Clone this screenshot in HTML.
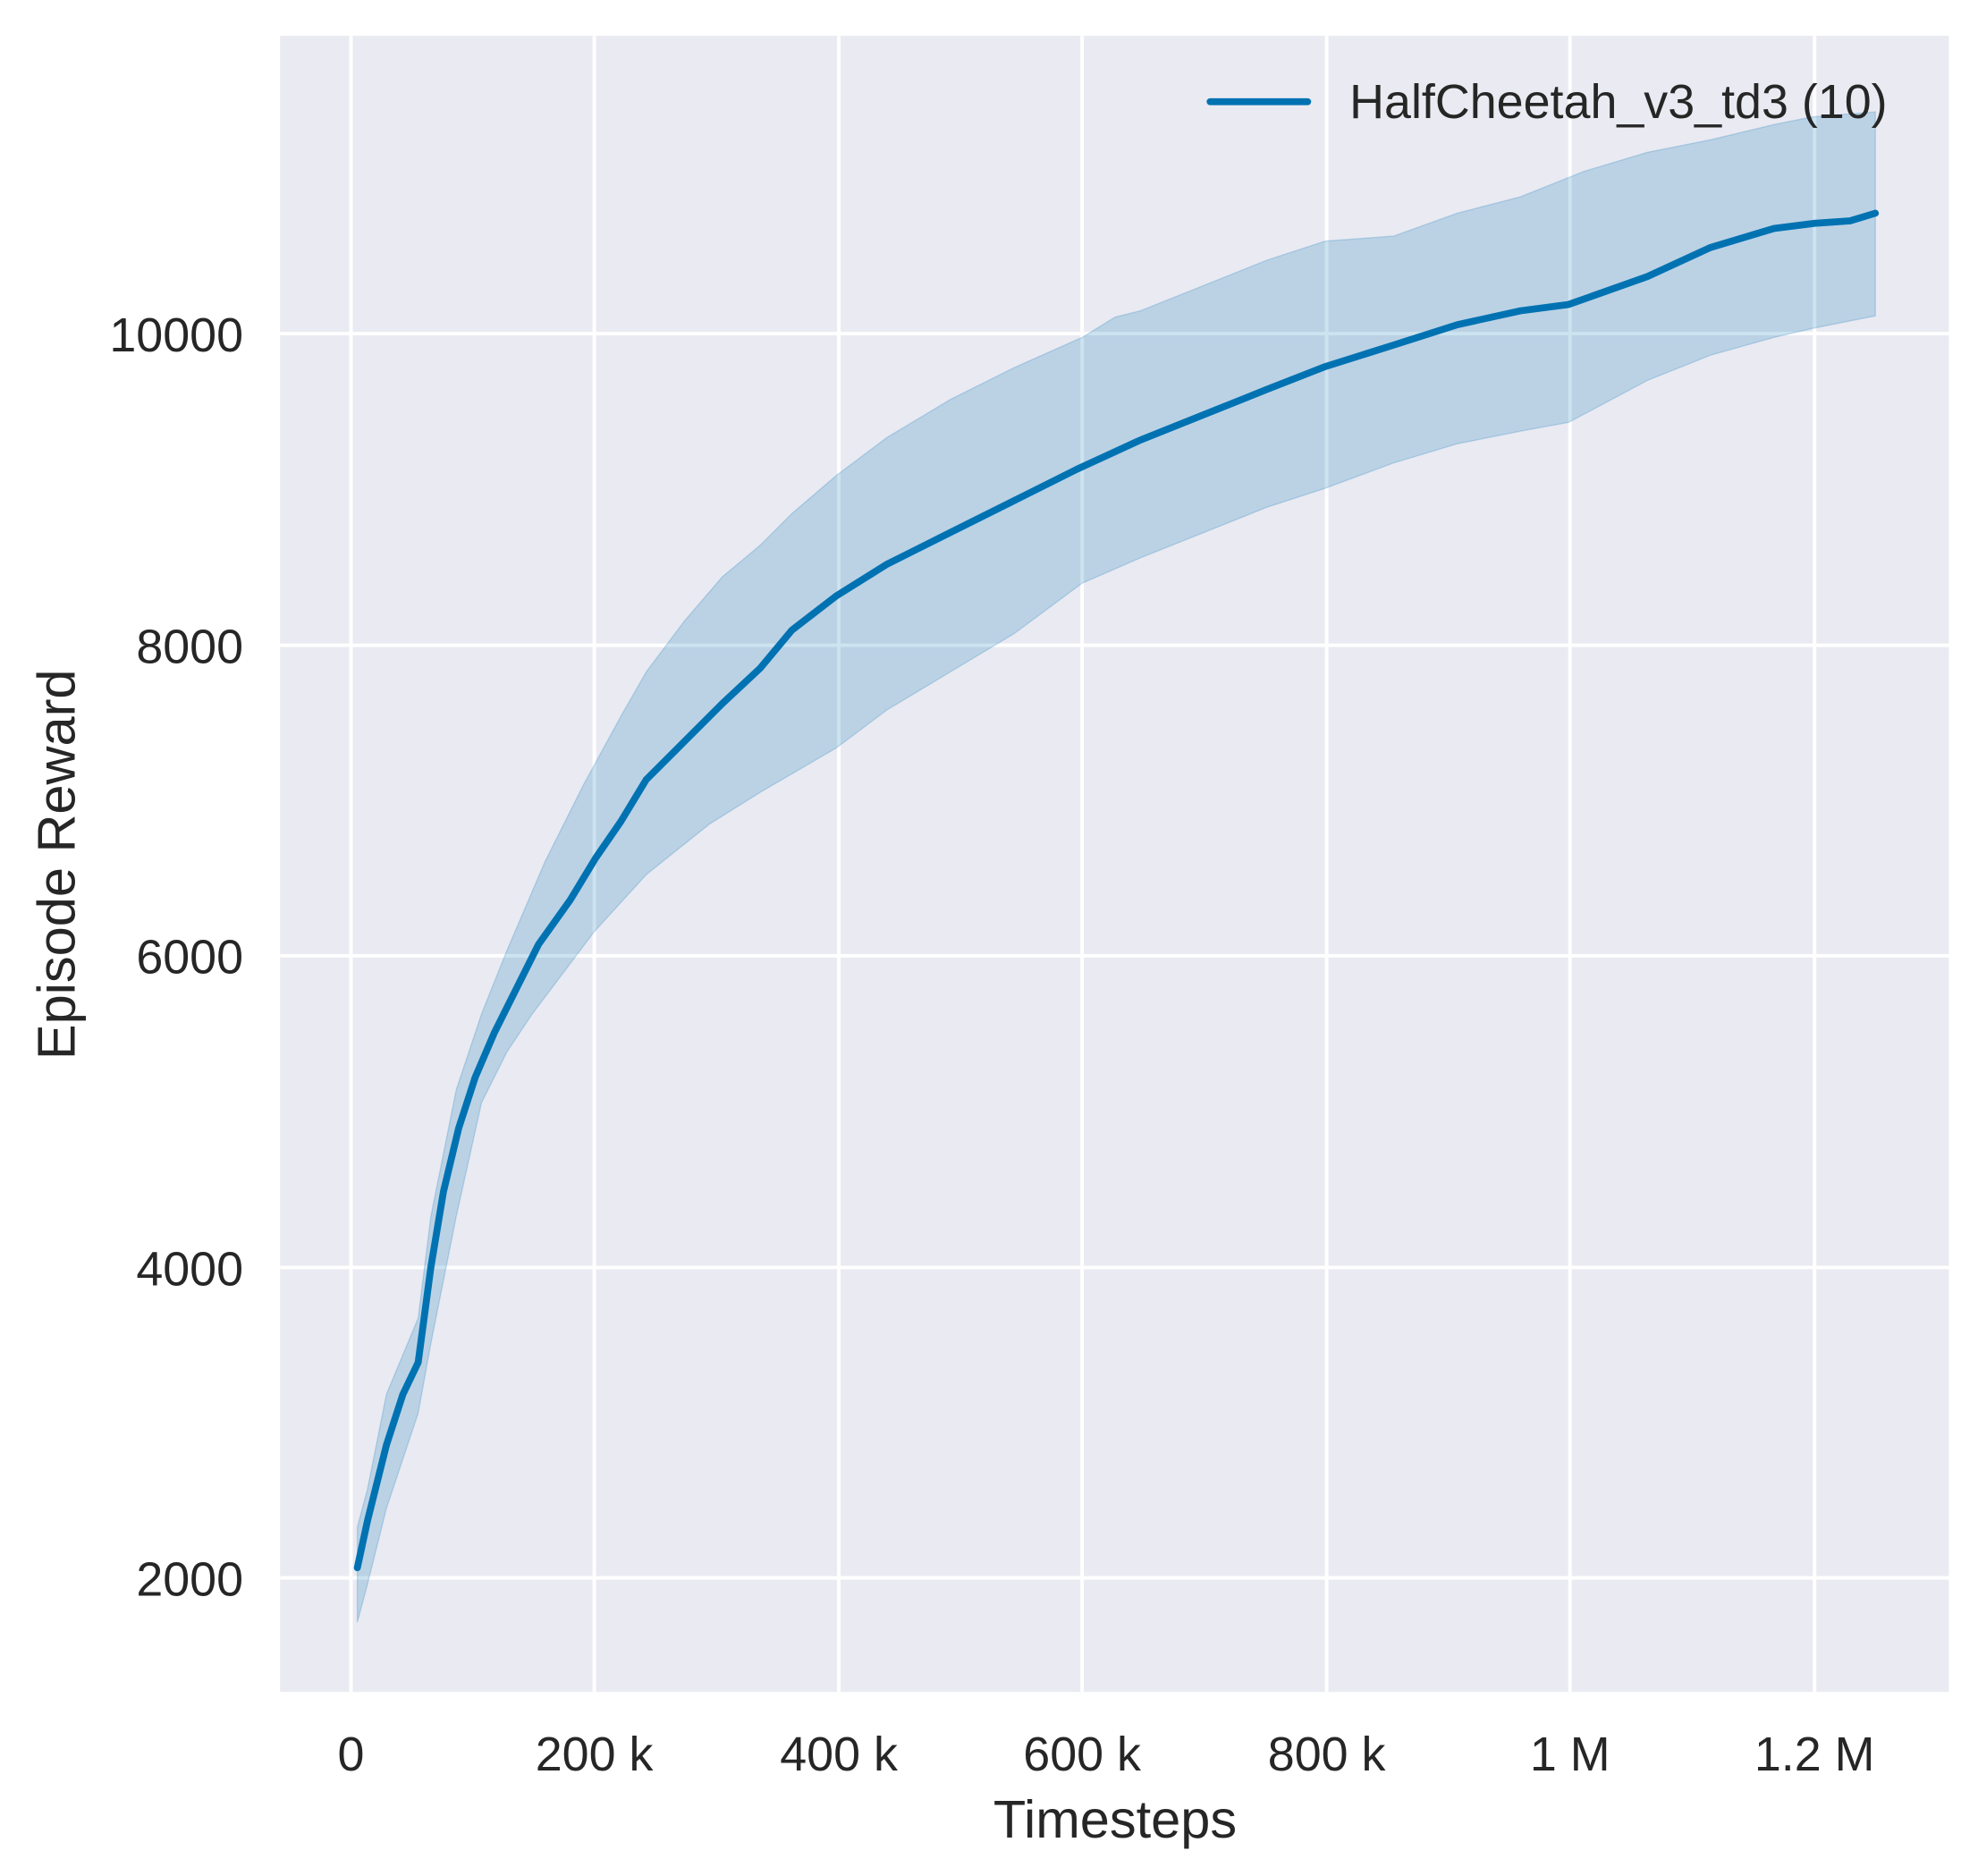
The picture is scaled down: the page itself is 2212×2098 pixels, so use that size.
<!DOCTYPE html>
<html><head><meta charset="utf-8"><style>html,body{margin:0;padding:0;background:#fff}svg{display:block}</style></head>
<body>
<svg width="2212" height="2098" viewBox="0 0 1561 1480" xmlns="http://www.w3.org/2000/svg" font-family="Liberation Sans, sans-serif" fill="#262626">
<rect x="221" y="28" width="1317" height="1307" fill="#eaeaf2"/>
<g stroke="#fff" stroke-width="2.8">
<line x1="277" y1="28" x2="277" y2="1335"/><line x1="469" y1="28" x2="469" y2="1335"/><line x1="662" y1="28" x2="662" y2="1335"/><line x1="854" y1="28" x2="854" y2="1335"/><line x1="1047" y1="28" x2="1047" y2="1335"/><line x1="1239" y1="28" x2="1239" y2="1335"/><line x1="1432" y1="28" x2="1432" y2="1335"/>
<line x1="221" y1="263" x2="1538" y2="263"/><line x1="221" y1="509" x2="1538" y2="509"/><line x1="221" y1="754" x2="1538" y2="754"/><line x1="221" y1="1000" x2="1538" y2="1000"/><line x1="221" y1="1245" x2="1538" y2="1245"/>
</g>
<path d="M282,1205 L290,1175 L305,1100 L330,1040 L340,960 L360,860 L380,800 L400,750 L430,680 L460,620 L490,565 L510,530 L540,490 L570,455 L600,430 L625,405 L660,375 L700,345 L750,315 L800,290 L854,266 L880,250 L900,245 L950,225 L1000,205 L1046,190 L1100,186 L1150,168 L1200,155 L1250,135 L1300,120 L1350,110 L1400,98 L1430,92 L1480,88 L1480,249 L1430,259 L1400,266 L1350,280 L1300,300 L1238,333 L1200,340 L1150,350 L1100,365 L1046,385 L1000,400 L950,420 L900,440 L854,460 L800,500 L750,530 L700,560 L660,590 L600,625 L560,650 L510,690 L469,735 L420,800 L400,830 L380,870 L360,960 L340,1060 L330,1115 L305,1190 L290,1250 L282,1280 Z" fill="#0072b2" fill-opacity="0.2" stroke="#0072b2" stroke-opacity="0.2" stroke-width="1"/>
<path d="M282,1237 L290,1200 L305,1140 L318,1100 L330,1075 L340,1000 L350,940 L362,890 L375,850 L390,815 L405,785 L425,745 L450,710 L470,677 L490,648 L510,615 L540,585 L570,555 L600,527 L625,497 L660,470 L700,445 L750,420 L800,395 L850,370 L900,347 L950,327 L1000,307 L1046,289 L1100,272 L1150,256 L1200,245 L1238,240 L1300,218 L1350,195 L1400,180 L1432,176 L1460,174 L1480,168" fill="none" stroke="#0072b2" stroke-width="5.5" stroke-linejoin="round" stroke-linecap="round"/>
<g font-size="38" text-anchor="middle">
<text x="277" y="1397">0</text><text x="469" y="1397">200 k</text><text x="662" y="1397">400 k</text><text x="854" y="1397">600 k</text><text x="1047" y="1397">800 k</text><text x="1239" y="1397">1 M</text><text x="1432" y="1397">1.2 M</text>
</g>
<g font-size="38" text-anchor="end">
<text x="192" y="277">10000</text><text x="192" y="523">8000</text><text x="192" y="768">6000</text><text x="192" y="1014">4000</text><text x="192" y="1259">2000</text>
</g>
<text x="880" y="1450" font-size="42" text-anchor="middle">Timesteps</text>
<text transform="translate(59,682) rotate(-90)" font-size="42" text-anchor="middle">Episode Reward</text>
<line x1="955" y1="80" x2="1032" y2="80" stroke="#0072b2" stroke-width="5.5" stroke-linecap="round"/>
<text x="1065" y="93" font-size="38">HalfCheetah_v3_td3 (10)</text>
</svg>
</body></html>
